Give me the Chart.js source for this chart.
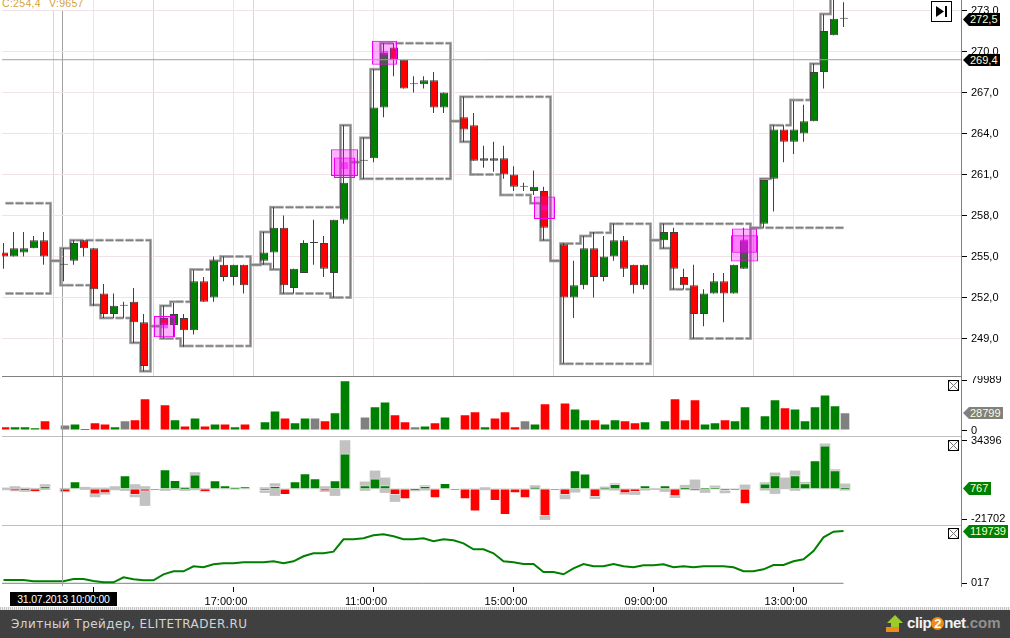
<!DOCTYPE html>
<html>
<head>
<meta charset="utf-8">
<title>ELITETRADER</title>
<style>
  html, body { margin: 0; padding: 0; background: #fff; overflow: hidden; }
  body { position: relative; width: 1010px; height: 638px; font-family: "Liberation Sans", Arial, sans-serif; }
  canvas { position: absolute; left: 0; display: block; }
  .abs { position: absolute; }
  #head { left: 2px; top: 0; width: 84px; height: 10px; background: #fff; overflow: hidden; color: #d6a23a; font-size: 10.5px; }
  #head span { position: absolute; top: -3px; white-space: nowrap; letter-spacing: .3px; }
  .tag { position: absolute; left: 963px; color: #ffffcc; font-size: 11px; line-height: 1; display: flex; align-items: center; padding-left: 7px; box-sizing: border-box;
         clip-path: polygon(6px 0, 100% 0, 100% 100%, 6px 100%, 0 50%); }
  #date { left: 10px; top: 592px; width: 107px; height: 14px; background: #000; color: #fff; font-size: 10.5px; line-height: 14px; text-align: center; letter-spacing: -.2px; white-space: nowrap; }
  #dots { left: 0; top: 607px; width: 1010px; height: 3px; background: repeating-linear-gradient(90deg, #c4c4c4 0 1px, #efefef 1px 2px); }
  #foot { left: 0; top: 610px; width: 1010px; height: 28px; background: #404040; }
  #brand { left: 11px; top: 7px; color: #d4d4d4; font: 12px "DejaVu Sans", sans-serif; letter-spacing: .45px; white-space: nowrap; }
  #logo { left: 907px; top: 4px; font: bold 15px "Liberation Sans", sans-serif; letter-spacing: -.4px; color: #f2f2f2; white-space: nowrap; }
  #logo b { display: inline-block; width: 13px; height: 13px; line-height: 13px; border-radius: 50%; background: #f08a18; color: #fff; text-align: center; font-size: 13px; letter-spacing: 0; }
  #logo i { font-style: normal; color: #909090; letter-spacing: 0; }
</style>
</head>
<body>
<canvas id="price" width="1010" height="377" style="top:0"></canvas>
<canvas id="volume" width="1010" height="61" style="top:376px"></canvas>
<canvas id="delta" width="1010" height="90" style="top:436px"></canvas>
<canvas id="cumulative" width="1010" height="83" style="top:525px"></canvas>

<div id="head" class="abs"><span style="left:0">C:254,4</span><span style="left:47px">V:9657</span></div>

<svg class="abs" style="left:931px;top:1px" width="21" height="21">
  <rect x="0.5" y="0.5" width="20" height="20" fill="#fff" stroke="#000"/>
  <path d="M5 5 L13 10.5 L5 16 Z" fill="#000"/><rect x="14" y="5" width="2" height="11" fill="#000"/>
</svg>
<svg class="abs" style="left:948px;top:380px" width="11" height="11"><rect x=".5" y=".5" width="10" height="10" fill="#fff" stroke="#000"/><path d="M1 1L10 10M10 1L1 10" stroke="#777"/></svg>
<svg class="abs" style="left:948px;top:440px" width="11" height="11"><rect x=".5" y=".5" width="10" height="10" fill="#fff" stroke="#000"/><path d="M1 1L10 10M10 1L1 10" stroke="#777"/></svg>
<svg class="abs" style="left:948px;top:528px" width="11" height="11"><rect x=".5" y=".5" width="10" height="10" fill="#fff" stroke="#000"/><path d="M1 1L10 10M10 1L1 10" stroke="#777"/></svg>

<div class="tag" style="top:13px;width:37px;height:13px;background:#000">272,5</div>
<div class="tag" style="top:54px;width:37px;height:12px;background:#000">269,4</div>
<div class="tag" style="top:407px;width:40px;height:12px;background:#808080">28799</div>
<div class="tag" style="top:482px;width:28px;height:13px;background:#008000">767</div>
<div class="tag" style="top:525px;width:45px;height:13px;background:#008000">119739</div>

<div id="date" class="abs">31.07.2013 10:00:00</div>
<div id="dots" class="abs"></div>
<div id="foot" class="abs">
  <div id="brand" class="abs">Элитный Трейдер, ELITETRADER.RU</div>
  <svg class="abs" style="left:886px;top:5px" width="18" height="18">
    <path d="M9 0 L17 8 L13 8 L13 12 L5 12 L5 8 L1 8 Z" fill="#9ccc2a"/><rect x="0" y="12" width="13" height="5" fill="#f08a18"/>
  </svg>
  <div id="logo" class="abs">clip<b>2</b>net<i>.com</i></div>
</div>

<script src="https://cdn.jsdelivr.net/npm/chart.js@4"></script>
<script>
// bars 5, 15, 25 ... are the empty slots between sessions
const OPEN = [
  255.3,255.0,255.3,255.6,256.2,null,254.4,254.7,256.2,255.6,
  252.3,250.8,251.4,251.7,250.2,null,250.5,250.0,250.5,249.6,
  253.2,252.0,254.4,253.5,254.4,null,254.7,255.3,257.1,252.7,
  253.8,256.0,256.0,253.8,257.7,null,262.0,262.2,265.9,270.3,
  269.4,267.6,267.6,267.9,265.9,null,265.2,264.6,262.0,262.2,
  262.2,261.0,260.1,259.8,259.8,null,255.9,252.0,252.9,255.6,
  253.5,255.0,256.2,254.4,252.9,null,256.2,256.8,253.5,252.9,
  250.8,252.3,253.2,252.3,254.1,null,257.4,260.7,264.3,263.4,
  264.0,264.9,268.5,271.2,272.4];
const HIGH = [
  256.0,256.8,256.8,256.5,256.8,null,255.6,256.2,256.2,255.6,
  253.0,252.3,251.7,252.7,250.8,null,251.4,251.6,250.8,254.0,
  253.5,255.0,255.0,254.4,254.4,null,256.8,258.6,258.0,254.1,
  256.2,257.7,256.5,257.7,264.6,null,263.7,268.7,270.6,270.6,
  269.4,268.2,268.2,268.5,267.0,null,266.7,265.5,263.1,263.4,
  263.1,261.6,260.4,261.3,260.1,null,256.0,254.7,256.5,256.8,
  256.5,257.4,256.5,254.4,254.4,null,257.4,257.1,254.1,254.4,
  252.6,253.8,253.8,254.4,257.1,null,260.6,264.6,264.6,266.4,
  266.1,269.1,272.7,274.0,273.6];
const LOW = [
  254.1,255.0,255.0,255.6,254.4,null,253.2,254.4,255.0,251.4,
  250.5,250.5,250.5,248.7,246.6,null,249.0,249.1,248.4,249.3,
  251.7,251.7,253.2,252.9,252.3,null,254.4,254.1,252.3,252.3,
  253.8,254.4,253.5,252.0,257.4,null,260.7,261.9,265.2,268.2,
  267.3,267.0,267.3,265.5,265.5,null,263.4,262.0,261.5,261.2,
  260.7,259.8,259.8,259.5,256.2,null,247.2,250.5,252.6,252.0,
  253.2,254.7,253.5,252.3,252.6,null,255.6,252.6,252.6,249.0,
  249.9,252.3,250.2,252.3,254.1,null,257.1,258.3,261.9,262.5,
  263.4,264.9,267.3,271.2,271.8];
const CLOSE = [
  255.0,255.6,255.6,256.2,255.0,null,254.4,256.0,255.6,252.6,
  250.8,251.4,251.4,250.2,247.0,null,250.0,250.8,249.6,253.2,
  251.7,254.7,253.5,254.4,252.9,null,255.3,257.1,252.9,254.1,
  256.0,256.0,254.1,257.7,260.4,null,262.0,265.9,269.9,269.4,
  267.3,267.6,267.9,265.9,267.0,null,264.3,262.0,262.2,262.0,
  261.0,260.1,260.1,260.1,257.1,null,252.0,252.9,255.6,253.5,
  255.0,256.2,254.1,252.9,254.4,null,256.8,254.1,252.9,250.8,
  252.3,253.2,252.3,254.4,256.2,null,260.6,264.3,263.4,264.3,
  264.9,268.5,271.5,272.4,272.4];

const UPPER = [
  258.9,258.9,258.9,258.9,258.9,254.7,255.6,256.2,256.2,256.2,
  256.2,256.2,256.2,256.2,256.2,249.9,251.4,251.7,251.7,254.05,
  254.05,254.7,255,255,255,254.4,256.8,258.6,258.6,258.6,
  258.6,258.6,258.6,258.6,264.6,261.9,263.7,268.7,270.6,270.6,
  270.6,270.6,270.6,270.6,270.6,264.9,266.7,266.7,266.7,266.7,
  266.7,266.7,266.7,266.7,266.7,254.7,255.95,255.95,256.5,256.75,
  256.75,257.4,257.4,257.4,257.4,256.2,257.4,257.4,257.4,257.4,
  257.4,257.4,257.4,257.4,257.4,257.1,260.7,264.6,264.6,266.45,
  266.45,269.1,272.75,274.5,274.5];
const LOWER = [
  252.3,252.3,252.3,252.3,252.3,254.7,252.9,252.9,252.9,251.45,
  250.5,250.5,250.5,248.7,246.6,249.9,249,249,248.45,248.45,
  248.45,248.45,248.45,248.45,248.45,254.4,254.45,254.05,252.3,252.3,
  252.3,252.3,252.3,252,252,261.9,260.7,260.7,260.7,260.7,
  260.7,260.7,260.7,260.7,260.7,264.9,263.4,261,261,261,
  259.5,259.5,259.5,258.9,256.2,254.7,247.15,247.15,247.15,247.15,
  247.15,247.15,247.15,247.15,247.15,256.2,255.6,252.6,252.6,249,
  249,249,249,249,249,257.1,257.1,257.1,257.1,257.1,
  257.1,257.1,257.1,257.1,257.1];

// highlighted clusters: bar, low price, high price
const SIGNAL_27 = [[34, 260.9, 262.85], [74, 254.63, 256.55]];
const SIGNAL_25 = [[38, 269.03, 270.78], [74, 255.27, 257.05]];
const SIGNAL_21 = [[16, 249.1, 250.65], [34, 260.75, 262.25], [54, 257.75, 259.4]];
const SIGNAL_CORE = [[16, 249.75, 250.1], [34, 261.4, 261.9], [38, 269.75, 270.05], [54, 258.4, 258.75], [74, 255.35, 256.25]];

const PRICE_TICK_NOW = 269.4;

const VOLUME = [
  6350,6350,6350,4800,15900,null,9500,11100,3200,12700,
  11100,6350,15900,17500,50800,null,41300,17500,7900,20600,
  7900,11100,11100,6350,11100,null,14300,31700,20600,12700,
  20600,20600,15900,28600,79350,null,22200,38100,46000,25400,
  14300,6350,7900,12700,22200,null,25400,30150,6350,20600,
  30150,6350,15900,11100,42850,null,44400,34900,17500,17500,
  11100,17500,15900,12700,14300,null,15900,50800,17500,49200,
  11100,12700,17500,15900,38100,null,23800,49200,36500,34900,
  15900,38100,57100,39700,28799];
const VOLUME_SIDE = [
  'r','g','g','g','r','-','k','g','r','r',
  'r','g','k','r','r','-','r','g','r','g',
  'r','g','r','g','r','-','g','g','r','g',
  'g','k','r','g','g','-','k','g','g','r',
  'r','k','g','r','g','-','r','r','g','r',
  'r','r','k','g','r','-','r','g','g','r',
  'g','g','r','r','g','-','g','r','r','r',
  'g','g','r','g','g','-','g','g','r','g',
  'g','g','g','g','k'];

const DELTA = [
  0,-1430,-950,-1900,1670,null,-2140,5240,0,-3810,
  -2860,0,9520,-4050,-1670,-480,13800,6190,710,10000,
  -1900,5950,2380,950,1670,null,-1190,1900,-4050,5240,
  10950,7380,-1430,5950,24990,null,2380,7140,2380,-4050,
  -7140,-950,1900,-6430,4050,-480,-7140,-15950,0,-8330,
  -18330,-2860,-6430,1190,-19040,-480,-4050,13090,10710,-5470,
  240,3330,-2860,-1900,2380,0,2380,-5000,710,-1190,
  950,950,-1190,-1190,-10710,null,3570,9520,0,9520,
  3810,20230,30700,13090,767];
const DELTA_TOP = [
  710,1670,710,480,3090,null,480,0,1190,710,
  710,1670,0,3090,1670,null,0,0,1190,11660,
  240,0,0,950,0,null,950,3810,0,0,
  0,0,1670,0,34510,null,5000,12850,7850,0,
  0,0,2380,0,0,null,0,0,950,0,
  0,0,0,2380,0,null,0,0,0,0,
  1430,3810,0,0,0,240,0,0,2620,6430,
  0,2140,0,0,2860,null,4520,11420,7850,12850,
  4760,0,32130,13800,3570];
const DELTA_BOTTOM = [
  -710,-1430,-1900,-1900,-480,null,-2140,0,-480,-5710,
  -3810,-710,-1190,-5710,-11900,null,-1190,-480,-1190,-710,
  -2140,0,0,-240,0,null,-2620,-4760,0,0,
  0,0,-1900,-4760,0,null,-1190,0,-2620,-9040,
  0,-1430,-950,0,0,null,0,0,-710,0,
  0,0,0,-240,-21900,null,-7140,-2380,0,-6900,
  -710,-950,-3810,-4050,-950,-480,-1900,-6190,-480,-1190,
  -2620,0,-2860,0,0,null,-950,-3330,0,-1190,
  0,0,0,0,-950];

const CUMULATIVE = [
  7643,7643,7643,4593,4593,4593,4593,9931,9931,5355,
  2305,2305,13744,9168,6880,6880,20607,27471,27471,38910,
  36622,43485,45773,45773,48061,48061,48061,50349,45773,50349,
  61788,68651,68651,72464,100680,100680,102968,109831,112119,107544,
  100680,100680,102968,96105,100680,98392,91529,77802,77802,68651,
  50349,48061,44248,44248,25945,25945,20607,34334,44248,38910,
  38910,44248,38910,36622,41197,41197,43485,36622,38910,36622,
  38910,38910,38910,36622,27471,27471,32046,41960,41960,50349,
  54924,73989,105256,118222,119739];
const CUMULATIVE_BASE = 17;

const PINK_TICKS = [9, 23, 37, 51, 65, 79];
const GREY_TICKS = [5, 15, 25, 35, 45, 55, 65, 75];
const TIME_LABELS = { 23: '17:00:00', 37: '11:00:00', 51: '15:00:00', 65: '09:00:00', 79: '13:00:00' };

const BARS = OPEN.map((_, i) => i);
const GREEN = '#008000', RED = '#ff0000', GREY = '#808080';
const PINK_GRID = '#f0e2ea', GREY_GRID = '#d8d8d8', CROSS = '#a0a0a0';

Chart.defaults.font.family = '"Liberation Sans", Arial, sans-serif';
Chart.defaults.font.size = 11;
Chart.defaults.color = '#000';
Chart.defaults.animation = false;

// x runs in bars, 10px each; the canvas area starts at 2px and stops at 961px
function xAxis(firstBarPx, crossBar, extra) {
  const min = (2 - firstBarPx) / 10;
  return Object.assign({
    type: 'linear',
    min: min,
    max: min + 95.9,
    offset: false,
    ticks: { display: false },
    border: { color: GREY },
    grid: {
      offset: false,
      drawTicks: false,
      z: 1,
      color: ctx => ctx.tick.value === crossBar ? CROSS : 'transparent'
    },
    afterBuildTicks: s => { s.ticks = [{ value: crossBar }]; },
    afterFit: s => { s.height = 0; s.paddingLeft = 0; s.paddingRight = 0; }
  }, extra);
}

// hidden x scale, same bars with a small pixel shift
function shiftedAxis(firstBarPx) {
  const min = (2 - firstBarPx) / 10;
  return {
    axis: 'x',
    type: 'linear',
    display: false,
    min: min,
    max: min + 95.9,
    offset: false,
    ticks: { display: false },
    afterBuildTicks: s => { s.ticks = []; }
  };
}

function yAxis(min, max, tickValues, label, gridColor) {
  return {
    position: 'right',
    min: min,
    max: max,
    border: { color: GREY },
    grid: {
      color: gridColor || 'transparent',
      drawOnChartArea: !!gridColor,
      tickLength: 6,
      tickColor: '#000'
    },
    ticks: { padding: 4, autoSkip: false, callback: label },
    afterBuildTicks: s => { s.ticks = tickValues.map(v => ({ value: v })); },
    afterFit: s => { s.width = 49; s.paddingTop = 0; s.paddingBottom = 0; }
  };
}

function pane(id, datasets, scales, bottom) {
  return new Chart(document.getElementById(id), {
    type: 'bar',
    data: { labels: BARS, datasets: datasets },
    options: {
      responsive: false,
      devicePixelRatio: 1,
      events: [],
      layout: { padding: { left: 2, right: 0, top: 0, bottom: bottom } },
      plugins: { legend: { display: false }, tooltip: { enabled: false } },
      scales: scales
    }
  });
}

// ungrouped bars sit on their exact x, width = categoryPercentage * smallest spacing on the scale
function overlayBar(width, spacing, extra) {
  return Object.assign({ grouped: false, barPercentage: 1, categoryPercentage: width / spacing, borderSkipped: false }, extra);
}

function bandLine(values, order, color, width) {
  return {
    type: 'line',
    xAxisID: 'xBand',
    data: values,
    stepped: 'middle',
    order: order,
    borderColor: color,
    borderWidth: width,
    pointRadius: 0,
    fill: false,
    segment: { borderDash: ctx => ctx.p0.parsed.y === ctx.p1.parsed.y ? [8, 2] : undefined }
  };
}

function signalBars(list, width, order) {
  return overlayBar(width, 40, {
    xAxisID: 'xSignal',
    data: list.map(s => ({ x: s[0], y: [s[1], s[2]] })),
    order: order,
    backgroundColor: 'rgba(255,0,255,0.3)',
    borderColor: '#f000f0',
    borderWidth: 1
  });
}

// price pane
pane('price', [
  bandLine(UPPER, 10, '#bcbcbc', 3),
  bandLine(LOWER, 10, '#bcbcbc', 3),
  bandLine(UPPER, 9, '#808080', 1.5),
  bandLine(LOWER, 9, '#808080', 1.5),
  overlayBar(1, 10, {
    data: BARS.map(i => HIGH[i] == null ? null : [LOW[i], HIGH[i]]),
    order: 8,
    backgroundColor: '#404040'
  }),
  overlayBar(8, 10, {
    xAxisID: 'xBody',
    data: BARS.map(i => OPEN[i] == null ? null : [OPEN[i], CLOSE[i]]),
    order: 7,
    minBarLength: 1,
    backgroundColor: BARS.map(i => CLOSE[i] >= OPEN[i] ? GREEN : RED),
    borderColor: '#404040',
    borderWidth: 1
  }),
  signalBars(SIGNAL_27, 27, 6),
  signalBars(SIGNAL_25, 25, 5),
  signalBars(SIGNAL_21, 21, 4),
  overlayBar(7, 40, {
    xAxisID: 'xSignal',
    data: SIGNAL_CORE.map(s => ({ x: s[0], y: [s[1], s[2]] })),
    order: 3,
    backgroundColor: 'rgba(255,0,255,0.55)'
  }),
  {
    type: 'line',
    data: [{ x: -0.15, y: PRICE_TICK_NOW }, { x: 95.75, y: PRICE_TICK_NOW }],
    order: 1,
    borderColor: CROSS,
    borderWidth: 1,
    pointRadius: 0
  }
], {
  x: xAxis(3.5, 5.9, {
    grid: {
      offset: false,
      drawTicks: false,
      color: ctx => {
        const v = ctx.tick.value;
        if (v === 5.9) return CROSS;
        return GREY_TICKS.includes(v) ? GREY_GRID : PINK_GRID;
      }
    },
    afterBuildTicks: s => {
      s.ticks = [5.9].concat(PINK_TICKS, GREY_TICKS).map(v => ({ value: v }));
    }
  }),
  xBody: shiftedAxis(4),
  xSignal: shiftedAxis(4.5),
  xBand: shiftedAxis(5.5),
  y: yAxis(246.26, 273.77, [249, 252, 255, 258, 261, 264, 267, 270, 273],
    v => v.toFixed(1).replace('.', ','), PINK_GRID)
}, 1);

// volume pane
pane('volume', [
  overlayBar(10, 10, {
    data: VOLUME,
    backgroundColor: VOLUME_SIDE.map(c => c === 'g' ? GREEN : c === 'r' ? RED : GREY),
    borderColor: 'rgba(255,255,255,0.45)',
    borderWidth: 1
  })
], {
  x: xAxis(5, 5.75),
  y: yAxis(-8411, 86813, [0, 79989], v => String(v))
}, 1);

// delta pane
pane('delta', [
  overlayBar(10, 10, {
    data: BARS.map(i => DELTA_TOP[i] == null ? null : [DELTA_BOTTOM[i], DELTA_TOP[i]]),
    order: 2,
    backgroundColor: '#c2c2c2'
  }),
  overlayBar(10, 10, {
    data: DELTA,
    order: 1,
    backgroundColor: DELTA.map(v => v >= 0 ? GREEN : RED),
    borderColor: 'rgba(255,255,255,0.45)',
    borderWidth: 1
  })
], {
  x: xAxis(5, 5.75),
  y: yAxis(-25770, 37750, [-21702, 34396], v => String(v))
}, 1);

// cumulative pane with the time axis
pane('cumulative', [
  {
    type: 'line',
    data: CUMULATIVE,
    order: 1,
    borderColor: GREEN,
    borderWidth: 2,
    pointRadius: 0,
    tension: 0
  },
  {
    type: 'line',
    data: [{ x: -0.15, y: CUMULATIVE_BASE }, { x: 84, y: CUMULATIVE_BASE }],
    order: 2,
    borderColor: GREY,
    borderWidth: 1,
    pointRadius: 0
  }
], {
  x: xAxis(3.5, 5.9, {
    ticks: {
      display: true,
      padding: 3,
      labelOffset: -7.5,
      autoSkip: false,
      maxRotation: 0,
      callback: v => TIME_LABELS[v] || ''
    },
    grid: {
      offset: false,
      tickLength: 6,
      z: 1,
      color: ctx => ctx.tick.value === 5.9 ? CROSS : 'transparent',
      tickColor: ctx => ctx.tick.value === 5.9 ? 'transparent' : '#000'
    },
    afterBuildTicks: s => {
      s.ticks = [5.9].concat(PINK_TICKS).map(v => ({ value: v }));
    },
    afterFit: s => { s.height = 22; s.paddingLeft = 0; s.paddingRight = 0; }
  }),
  y: yAxis(-6160, 133396, [CUMULATIVE_BASE], () => '017')
}, 0);
</script>
</body>
</html>
